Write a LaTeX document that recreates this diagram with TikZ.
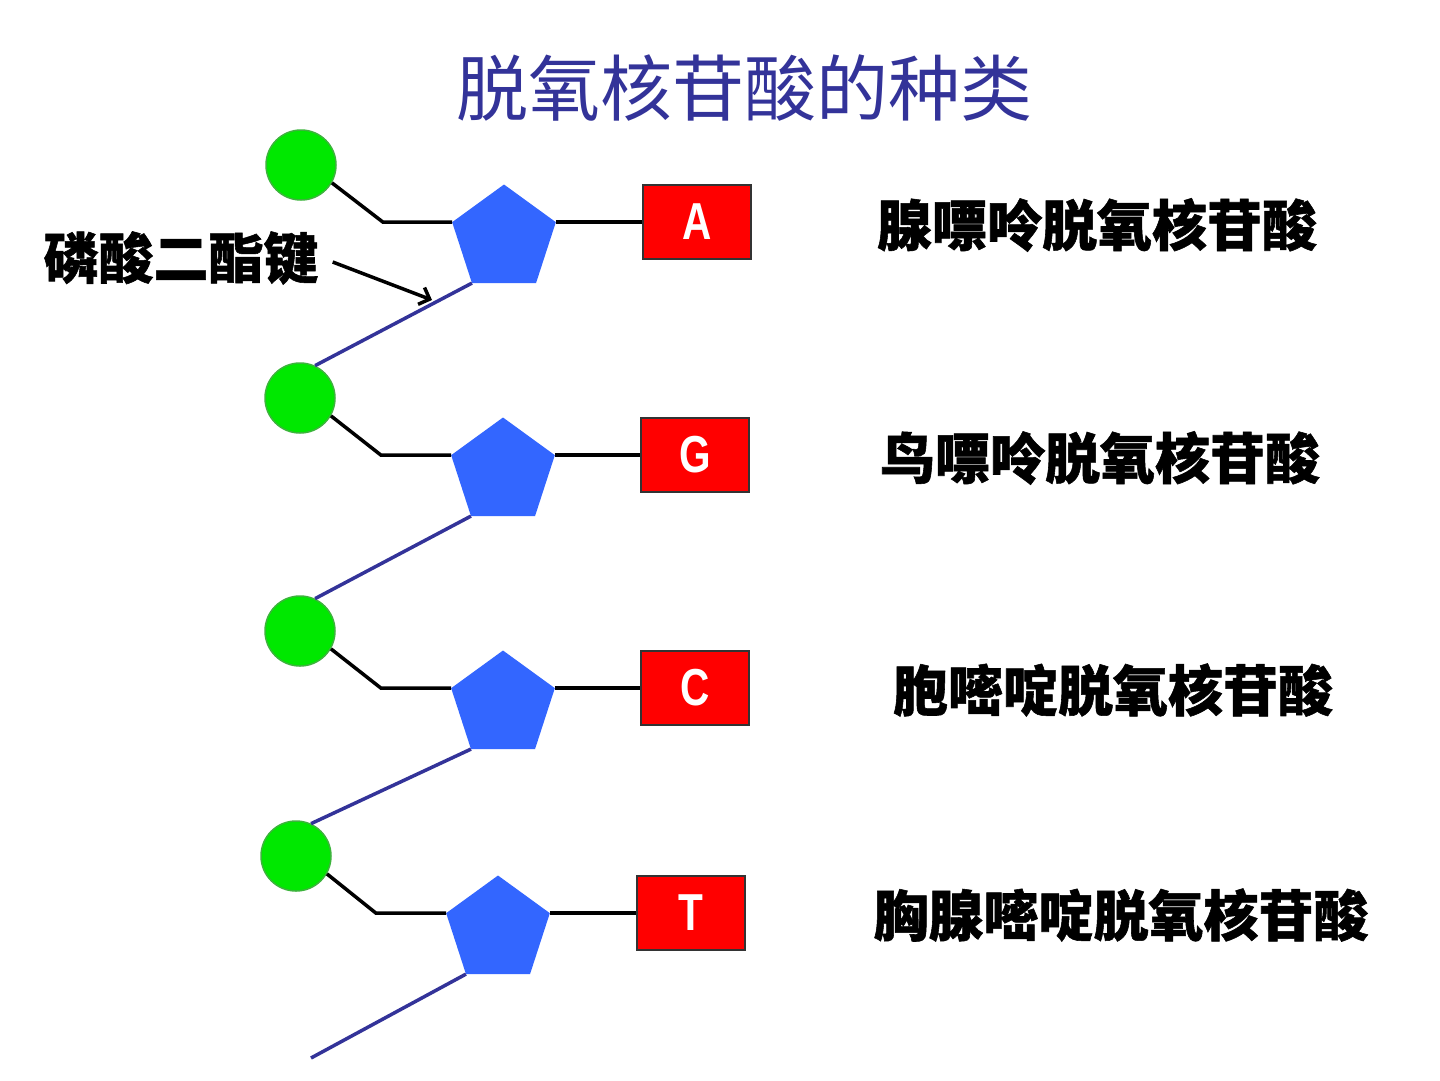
\documentclass[tikz,border=0pt]{standalone}
\usepackage{fontspec}
\usetikzlibrary{shapes.geometric,arrows.meta}
\newfontfamily\cjk{Noto Sans CJK SC}
\newfontfamily\cjkheavy{Noto Sans CJK SC}[BoldFeatures={FakeBold=1}]
\newfontfamily\lat{Liberation Sans}
\definecolor{phosgreen}{RGB}{0,232,0}
\definecolor{phosedge}{RGB}{60,180,60}
\definecolor{sugarblue}{RGB}{51,102,255}
\definecolor{chainblue}{RGB}{51,51,153}
\definecolor{basered}{RGB}{255,0,0}
\begin{document}
\begin{tikzpicture}[x=1pt,y=-1pt,
  phos/.style={circle, fill=phosgreen, draw=phosedge, line width=1.5pt, minimum size=70pt, inner sep=0pt},
  sugar/.style={regular polygon, regular polygon sides=5, fill=sugarblue, minimum size=109pt, inner sep=0pt, outer sep=0pt},
  basebox/.style={rectangle, fill=basered, draw=black!80, line width=1.5pt, minimum width=108pt, minimum height=74pt, inner sep=0pt, text=white, font=\lat\bfseries\fontsize{52}{52}\selectfont},
  bond/.style={line width=3.5pt, black},
  chain/.style={line width=3.5pt, chainblue},
  namelbl/.style={font=\cjkheavy\bfseries\fontsize{55}{60}\selectfont, inner sep=0pt}
]
\useasboundingbox (0,0) rectangle (1440,1080);
\fill[white] (0,0) rectangle (1440,1080);

% title
\node[font=\cjk\fontsize{72}{80}\selectfont, text=chainblue, inner sep=0pt] (title) at (744,88) {脱氧核苷酸的种类};

% row 1
\node[phos] (p1) at (301,165) {};
\node[sugar] (s1) at (504,239) {};
\node[basebox] (b1) at (697,222) {\scalebox{0.78}[1]{A}};
\node[namelbl] (n1) at (1097,225) {腺嘌呤脱氧核苷酸};
\coordinate (k1) at (383,0 |- s1.corner 2);

% row 2
\node[phos] (p2) at (300,398) {};
\node[sugar] (s2) at (503,472) {};
\node[basebox] (b2) at (695,455) {\scalebox{0.78}[1]{G}};
\node[namelbl] (n2) at (1100,458) {鸟嘌呤脱氧核苷酸};
\coordinate (k2) at (381,0 |- s2.corner 2);

% row 3
\node[phos] (p3) at (300,631) {};
\node[sugar] (s3) at (503,705) {};
\node[basebox] (b3) at (695,688) {\scalebox{0.78}[1]{C}};
\node[namelbl] (n3) at (1113,690) {胞嘧啶脱氧核苷酸};
\coordinate (k3) at (381,0 |- s3.corner 2);

% row 4
\node[phos] (p4) at (296,856) {};
\node[sugar] (s4) at (498,930) {};
\node[basebox] (b4) at (691,913) {\scalebox{0.78}[1]{T}};
\node[namelbl] (n4) at (1121,915) {胸腺嘧啶脱氧核苷酸};
\coordinate (k4) at (376,0 |- s4.corner 2);
\coordinate (tail) at (311,1058);

% bonds phosphate - sugar - base
\draw[bond] (p1.-30) -- (k1) -- (s1.corner 2);
\draw[bond] (s1.corner 5) -- (s1.corner 5 -| b1.west);
\draw[bond] (p2.-30) -- (k2) -- (s2.corner 2);
\draw[bond] (s2.corner 5) -- (s2.corner 5 -| b2.west);
\draw[bond] (p3.-30) -- (k3) -- (s3.corner 2);
\draw[bond] (s3.corner 5) -- (s3.corner 5 -| b3.west);
\draw[bond] (p4.-30) -- (k4) -- (s4.corner 2);
\draw[bond] (s4.corner 5) -- (s4.corner 5 -| b4.west);

% backbone
\draw[chain] (s1.corner 3) -- (p2.65);
\draw[chain] (s2.corner 3) -- (p3.65);
\draw[chain] (s3.corner 3) -- (p4.65);
\draw[chain] (s4.corner 3) -- (tail);

% phosphodiester label
\node[namelbl] (lbl) at (181,258) {磷酸二酯键};
\coordinate (tip) at (432,300);
\draw[bond, -{Straight Barb[length=9pt,width=18pt]}] ([xshift=14pt,yshift=-4pt]lbl.east) -- (tip);
\end{tikzpicture}
\end{document}
